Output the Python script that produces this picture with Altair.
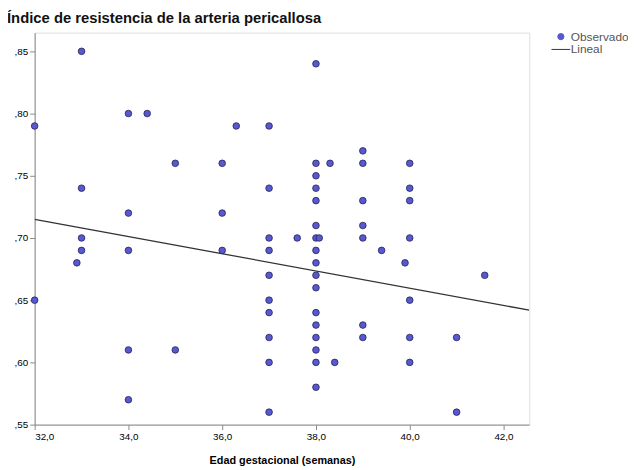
import altair as alt
import pandas as pd

# Edad gestacional (semanas) and Índice de resistencia
edad = [32, 32, 32.9, 33, 33, 33, 33, 34, 34, 34, 34, 34, 34.4, 35, 35, 36, 36, 36, 36.3,
        37, 37, 37, 37, 37, 37, 37, 37, 37, 37, 37.6,
        38, 38, 38, 38, 38, 38, 38, 38, 38, 38, 38, 38, 38, 38, 38, 38, 38,
        38.07, 38.3, 38.4,
        39, 39, 39, 39, 39, 39, 39, 39.4, 39.9,
        40, 40, 40, 40, 40, 40, 40, 41, 41, 41.6]
ir = [0.79, 0.65, 0.68, 0.85, 0.74, 0.70, 0.69, 0.80, 0.72, 0.69, 0.61, 0.57, 0.80, 0.76, 0.61, 0.76, 0.72, 0.69, 0.79,
      0.79, 0.74, 0.70, 0.69, 0.67, 0.65, 0.64, 0.62, 0.60, 0.56, 0.70,
      0.84, 0.76, 0.75, 0.74, 0.73, 0.71, 0.70, 0.69, 0.68, 0.67, 0.66, 0.64, 0.63, 0.62, 0.61, 0.60, 0.58,
      0.70, 0.76, 0.60,
      0.77, 0.76, 0.73, 0.71, 0.70, 0.63, 0.62, 0.69, 0.68,
      0.76, 0.74, 0.73, 0.70, 0.65, 0.62, 0.60, 0.62, 0.56, 0.67]

# Fitted linear line ("Lineal"), at the plot's two ends
lineal_edad = [32.0, 42.55]
lineal_ir = [0.715, 0.642]

x_ticks = [32, 34, 36, 38, 40, 42]
y_ticks = [0.55, 0.60, 0.65, 0.70, 0.75, 0.80, 0.85]
series = ["Observado", "Lineal"]

df = pd.DataFrame({"edad": edad, "ir": ir, "tipo": "Observado"})
df_line = pd.DataFrame({"edad": lineal_edad, "ir": lineal_ir, "tipo": "Lineal"})

FONT = "Liberation Sans"

xscale = alt.Scale(domain=[32, 42.55], nice=False, zero=False)
yscale = alt.Scale(domain=[0.55, 0.865], nice=False, zero=False)
color = alt.Color("tipo:N", scale=alt.Scale(domain=series, range=["#5858cf", "#333333"]),
                  legend=alt.Legend(title=None, orient="none", legendX=527, legendY=-2,
                                    labelFontSize=12, labelColor="#555555", labelFont=FONT,
                                    symbolSize=40, symbolStrokeColor="#2a2a55", symbolStrokeWidth=1,
                                    labelOffset=4, padding=0, rowPadding=1))
shape = alt.Shape("tipo:N", scale=alt.Scale(domain=series, range=["circle", "M-3,0L3,0"]))

xaxis = alt.Axis(values=x_ticks, title="Edad gestacional (semanas)", grid=False, titlePadding=13,
                 labelExpr="replace(format(datum.value, '.1f'), '.', ',')")
yaxis = alt.Axis(values=y_ticks, title=None, grid=False,
                 labelExpr="replace(format(datum.value, '.2f'), '0.', ',')")

points = alt.Chart(df).mark_point(filled=True, size=45, opacity=1, stroke="#22225a", strokeWidth=0.8).encode(
    x=alt.X("edad:Q", scale=xscale, axis=xaxis),
    y=alt.Y("ir:Q", scale=yscale, axis=yaxis),
    color=color,
    shape=shape,
)

line = alt.Chart(df_line).mark_line(strokeWidth=1.3, clip=True).encode(
    x=alt.X("edad:Q", scale=xscale, axis=xaxis),
    y=alt.Y("ir:Q", scale=yscale, axis=yaxis),
    color=color,
)

chart = alt.layer(line, points).properties(
    width=501, height=397,
    autosize=alt.AutoSizeParams(type="none"),
    padding={"left": 27, "top": 22, "right": 100, "bottom": 43},
    title=alt.TitleParams("Índice de resistencia de la arteria pericallosa", anchor="start", frame="group",
                          dx=-28, offset=5, fontSize=15, fontWeight="bold", font=FONT, color="#111111"),
).configure_view(
    fill="#f0f0f0", stroke="#7a7a7a", strokeWidth=1
).configure_axis(
    domainColor="#333333", domainWidth=1.2, tickColor="#333333", tickSize=5, grid=False,
    labelFont=FONT, labelFontSize=11, labelColor="#555555", labelPadding=2,
    titleFont=FONT, titleFontSize=13, titleFontWeight="bold", titleColor="#111111",
).configure(background="white")

chart.save("out.html", embed_options={"renderer": "svg", "actions": False})
